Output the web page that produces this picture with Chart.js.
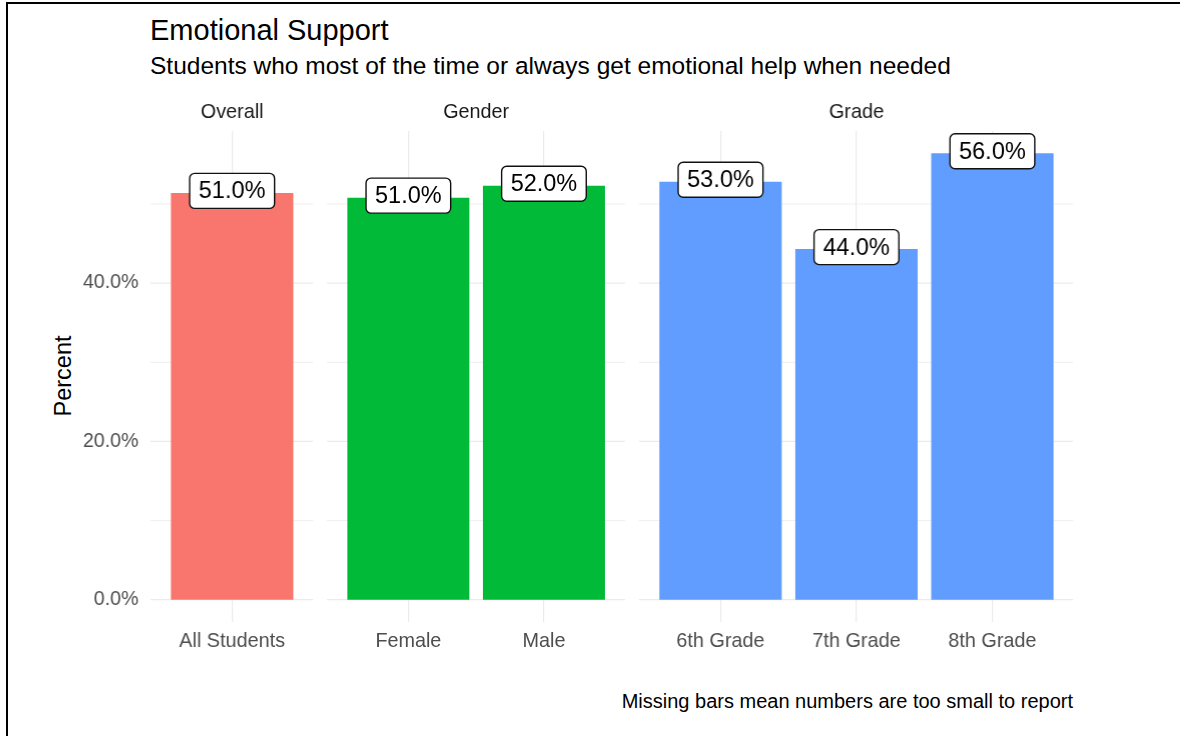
<!DOCTYPE html>
<html>
<head>
<meta charset="utf-8">
<script src="https://cdn.jsdelivr.net/npm/chart.js@4.4.0/dist/chart.umd.min.js"></script>
<style>
  body { margin: 0; background: #fff; font-family: "Liberation Sans", Arial, sans-serif; }
  #page { position: relative; width: 1180px; height: 736px; overflow: hidden; background: #fff; }
  #frame { position: absolute; left: 6px; top: 2px; right: -4px; bottom: -4px; border-left: 2px solid #000; border-top: 2px solid #000; }
  .panel { position: absolute; top: 0; height: 736px; }
  .txt { position: absolute; white-space: nowrap; line-height: 1; }
  #title { left: 150px; top: 15.5px; font-size: 29px; color: #000; }
  #subtitle { left: 150px; top: 54px; font-size: 24.5px; color: #000; }
  #caption { right: 107px; top: 691px; font-size: 20px; color: #000; }
  #ytitle { left: 63.5px; top: 376px; font-size: 23.5px; color: #000; transform: translate(-50%, -50%) rotate(-90deg); }
</style>
</head>
<body>
<div id="page">
  <div id="frame"></div>
  <div class="txt" id="title">Emotional Support</div>
  <div class="txt" id="subtitle">Students who most of the time or always get emotional help when needed</div>
  <div class="txt" id="ytitle">Percent</div>
  <div class="txt" id="caption">Missing bars mean numbers are too small to report</div>
  <div class="panel" id="p0"><canvas id="c0"></canvas></div>
  <div class="panel" id="p1"><canvas id="c1"></canvas></div>
  <div class="panel" id="p2"><canvas id="c2"></canvas></div>
</div>
<script>
// data
const facets = ['Overall', 'Gender', 'Grade'];
const overallCats = ['All Students'];
const overallVals = [51.4];
const genderCats = ['Female', 'Male'];
const genderVals = [50.8, 52.3];
const gradeCats = ['6th Grade', '7th Grade', '8th Grade'];
const gradeVals = [52.8, 44.3, 56.4];
const facetColors = ['#F8766D', '#00BA38', '#619CFF'];
const yTicks = [0, 10, 20, 30, 40, 50];
const yLabelled = [0, 20, 40];

const FONT = '"Liberation Sans", Arial, sans-serif';

// panel geometry (ggplot-like facets, width proportional to number of bars)
const plotLeft = 150, plotRight = 1073, gap = 14;
const panelTop = 131, panelBottom = 622, xAxisH = 50;
const groups = [
  {cats: overallCats, vals: overallVals},
  {cats: genderCats, vals: genderVals},
  {cats: gradeCats, vals: gradeVals}
];
const totalUnits = groups.reduce((s, g) => s + g.cats.length + 0.2, 0);
const unit = (plotRight - plotLeft - gap * (groups.length - 1)) / totalUnits;
const ext = 0.1 * unit;

const allVals = overallVals.concat(genderVals, gradeVals);
const yMaxData = Math.max(...allVals);
const yMax = yMaxData * 1.05;
const yMin = -yMaxData * 0.05;

const fmt = v => Math.round(v).toFixed(1) + '%';

const panelPlugin = {
  id: 'panel',
  beforeDatasetsDraw(chart) {
    const {ctx, chartArea, scales} = chart;
    ctx.save();
    for (const t of yTicks) {
      const y = scales.y.getPixelForValue(t);
      ctx.strokeStyle = '#ebebeb';
      ctx.lineWidth = yLabelled.includes(t) ? 1.2 : 0.8;
      ctx.beginPath();
      ctx.moveTo(chartArea.left - ext, y);
      ctx.lineTo(chartArea.right + ext, y);
      ctx.stroke();
    }
    // strip label
    const o = chart.options.plugins.panel;
    ctx.fillStyle = '#1a1a1a';
    ctx.font = '19.8px ' + FONT;
    ctx.textAlign = 'center';
    ctx.textBaseline = 'middle';
    ctx.fillText(o.facet, (chartArea.left + chartArea.right) / 2, 112.5);
    ctx.restore();
  },
  afterDatasetsDraw(chart) {
    const {ctx} = chart;
    const meta = chart.getDatasetMeta(0);
    const vals = chart.data.datasets[0].data;
    ctx.save();
    ctx.font = '23.5px ' + FONT;
    ctx.textAlign = 'center';
    ctx.textBaseline = 'middle';
    meta.data.forEach((bar, i) => {
      const txt = fmt(vals[i]);
      const w = ctx.measureText(txt).width + 18;
      const h = 35;
      const cx = bar.x, cy = bar.y - 2;
      ctx.beginPath();
      ctx.roundRect(cx - w / 2, cy - h / 2, w, h, 5);
      ctx.fillStyle = '#fff';
      ctx.fill();
      ctx.strokeStyle = '#111';
      ctx.lineWidth = 1.4;
      ctx.stroke();
      ctx.fillStyle = '#000';
      ctx.fillText(txt, cx, cy + 1);
    });
    ctx.restore();
  }
};

let left = plotLeft;
groups.forEach((g, i) => {
  const n = g.cats.length;
  const pw = (n + 0.2) * unit;
  const caLeft = left + ext;
  const first = i === 0;
  const boxLeft = first ? 0 : left;
  const boxW = (left + pw) - boxLeft;
  const div = document.getElementById('p' + i);
  div.style.left = boxLeft + 'px';
  div.style.width = boxW + 'px';

  new Chart(document.getElementById('c' + i), {
    type: 'bar',
    data: {
      labels: g.cats,
      datasets: [{
        data: g.vals,
        backgroundColor: facetColors[i],
        barPercentage: 0.9,
        categoryPercentage: 1
      }]
    },
    options: {
      responsive: true,
      maintainAspectRatio: false,
      animation: false,
      layout: {
        padding: {
          top: panelTop,
          bottom: 736 - panelBottom - xAxisH,
          left: first ? 0 : ext,
          right: ext
        }
      },
      plugins: {
        legend: {display: false},
        tooltip: {enabled: false},
        panel: {facet: facets[i]}
      },
      scales: {
        x: {
          offset: true,
          grid: {offset: false, color: '#ebebeb', lineWidth: 1.2, drawTicks: false},
          border: {display: false},
          ticks: {
            color: '#4d4d4d',
            font: {family: FONT, size: 19.8},
            padding: 8,
            maxRotation: 0,
            autoSkip: false
          },
          afterFit: s => { s.height = xAxisH; }
        },
        y: {
          display: first,
          min: yMin,
          max: yMax,
          grid: {display: false, drawTicks: false},
          border: {display: false},
          afterBuildTicks: s => { s.ticks = yTicks.map(v => ({value: v})); },
          ticks: {
            color: '#4d4d4d',
            font: {family: FONT, size: 19.5},
            padding: caLeft - 138,
            callback: v => yLabelled.includes(v) ? v.toFixed(1) + '%' : ''
          },
          afterFit: s => { s.width = first ? caLeft - boxLeft : 0; }
        }
      }
    },
    plugins: [panelPlugin]
  });
  left += pw + gap;
});
</script>
</body>
</html>
